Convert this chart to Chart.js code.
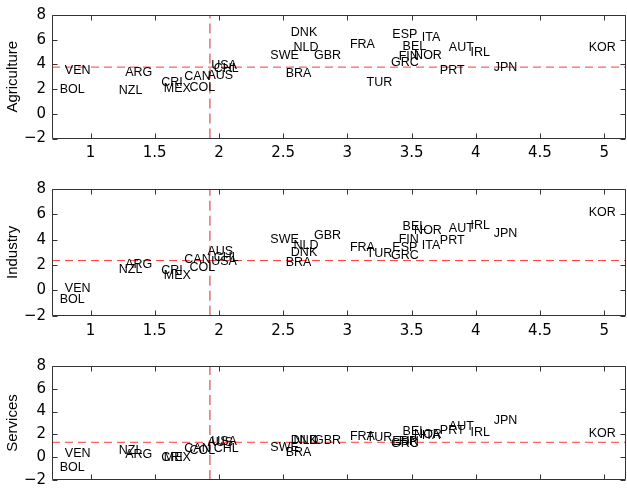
<!DOCTYPE html>
<html>
<head>
<meta charset="utf-8">
<script src="https://cdn.jsdelivr.net/npm/chart.js@4"></script>
<style>
  body { margin: 0; background: #fff; }
  .panel { position: absolute; left: 0; width: 627px; }
</style>
</head>
<body>
<div class="panel" style="top:0px;height:170px"><canvas id="agri-chart" width="627" height="170"></canvas></div>
<div class="panel" style="top:170px;height:170px"><canvas id="ind-chart" width="627" height="170"></canvas></div>
<div class="panel" style="top:340px;height:155px"><canvas id="serv-chart" width="627" height="155"></canvas></div>
<script>
var countries = ["VEN", "BOL", "ARG", "NZL", "CRI", "MEX", "CAN", "COL", "AUS", "USA", "CHL",
  "SWE", "DNK", "NLD", "BRA", "GBR", "FRA", "TUR", "ESP", "GRC", "FIN", "BEL", "NOR", "ITA",
  "AUT", "IRL", "PRT", "JPN", "KOR"];

// same x for every panel
var xValues = [0.80, 0.76, 1.27, 1.22, 1.55, 1.57, 1.73, 1.77, 1.91, 1.94, 1.96,
  2.40, 2.56, 2.58, 2.52, 2.74, 3.02, 3.15, 3.35, 3.34, 3.40, 3.43, 3.52, 3.58,
  3.79, 3.96, 3.72, 4.14, 4.88];

var agriValues = [3.54, 1.94, 3.32, 1.89, 2.55, 2.02, 3.0, 2.1, 3.1, 3.88, 3.64,
  4.68, 6.59, 5.39, 3.22, 4.68, 5.61, 2.53, 6.41, 4.14, 4.6, 5.42, 4.73, 6.19,
  5.34, 4.94, 3.48, 3.75, 5.34];

var indValues = [0.17, -0.74, 2.02, 1.68, 1.55, 1.15, 2.4, 1.81, 3.06, 2.29, 2.56,
  3.99, 3.0, 3.54, 2.21, 4.31, 3.35, 2.88, 3.4, 2.72, 3.99, 5.05, 4.73, 3.51,
  4.84, 5.08, 3.94, 4.47, 6.11];

var servValues = [0.3, -0.92, 0.22, 0.57, 0.01, 0.0, 0.75, 0.57, 1.28, 1.36, 0.75,
  0.83, 1.5, 1.5, 0.43, 1.5, 1.82, 1.74, 1.4, 1.2, 1.35, 2.22, 1.95, 1.87,
  2.69, 2.14, 2.3, 3.2, 2.08];

var xTicks = [1, 1.5, 2, 2.5, 3, 3.5, 4, 4.5, 5];
var yTicks = [-2, 0, 2, 4, 6, 8];
var xMin = 0.7, xMax = 5.17;
var yMin = -2, yMax = 8;

var vLineX = 1.93;
var hLineAgri = 3.78, hLineInd = 2.35, hLineServ = 1.31;

// box + inward ticks + country labels (matlab look)
var boxPlugin = {
  id: "box",
  afterDatasetsDraw: function (chart) {
    var ctx = chart.ctx, a = chart.chartArea;
    var xs = chart.scales.x, ys = chart.scales.y;
    ctx.save();
    ctx.strokeStyle = "#333";
    ctx.lineWidth = 1;
    ctx.beginPath();
    var L = Math.round(a.left) + 0.5, R = Math.round(a.right) - 0.5;
    var T = Math.round(a.top) + 0.5, B = Math.round(a.bottom) - 0.5;
    ctx.rect(L, T, R - L, B - T);
    xTicks.forEach(function (v) {
      var px = Math.round(xs.getPixelForValue(v)) + 0.5;
      ctx.moveTo(px, T); ctx.lineTo(px, T + 5);
      ctx.moveTo(px, B); ctx.lineTo(px, B - 5);
    });
    yTicks.forEach(function (v) {
      var py = Math.round(ys.getPixelForValue(v)) + 0.5;
      ctx.moveTo(L, py); ctx.lineTo(L + 5, py);
      ctx.moveTo(R, py); ctx.lineTo(R - 5, py);
    });
    ctx.stroke();

    var meta = chart.getDatasetMeta(0);
    ctx.fillStyle = "#000";
    ctx.font = "12.5px 'Liberation Sans', Arial, sans-serif";
    ctx.textAlign = "left";
    ctx.textBaseline = "middle";
    meta.data.forEach(function (pt, i) {
      ctx.fillText(countries[i], pt.x, pt.y);
    });
    ctx.restore();
  },
};

var makeChart = function (id, title, values, hLine, padTop, xAxisHeight) {
  return new Chart(document.getElementById(id).getContext("2d"), {
    type: "scatter",
    data: {
      datasets: [
        {
          label: title,
          data: values.map((v, i) => ({ x: xValues[i], y: v })),
          pointRadius: 0,
          pointHoverRadius: 0,
        },
        {
          type: "line",
          data: [{ x: xMin, y: hLine }, { x: xMax, y: hLine }],
          borderColor: "#ff3a3a",
          borderWidth: 1,
          borderDash: [8, 5],
          pointRadius: 0,
        },
        {
          type: "line",
          data: [{ x: vLineX, y: yMin }, { x: vLineX, y: yMax }],
          borderColor: "#d02a28",
          borderWidth: 1,
          borderDash: [10, 5],
          pointRadius: 0,
        },
      ],
    },
    options: {
      responsive: false,
      animation: false,
      events: [],
      layout: { padding: { top: padTop, right: 1, left: 0, bottom: 0 } },
      plugins: { legend: { display: false }, tooltip: { enabled: false } },
      scales: {
        x: {
          type: "linear",
          min: xMin,
          max: xMax,
          afterBuildTicks: function (scale) {
            scale.ticks = xTicks.map((v) => ({ value: v }));
          },
          afterFit: function (scale) { scale.height = xAxisHeight; },
          grid: { display: false, drawTicks: false },
          border: { display: false },
          ticks: {
            padding: 6,
            color: "#000",
            maxRotation: 0,
            autoSkip: false,
            font: { family: "'DejaVu Sans', sans-serif", size: 15 },
            callback: (v) => String(v),
          },
        },
        y: {
          min: yMin,
          max: yMax,
          afterBuildTicks: function (scale) {
            scale.ticks = yTicks.map((v) => ({ value: v }));
          },
          afterFit: function (scale) { scale.width = 52; },
          grid: { display: false, drawTicks: false },
          border: { display: false },
          title: {
            display: true,
            text: title,
            color: "#000",
            padding: { top: 4, bottom: 0 },
            font: { family: "'Liberation Sans', Arial, sans-serif", size: 15 },
          },
          ticks: {
            padding: 6,
            color: "#000",
            font: { family: "'DejaVu Sans', sans-serif", size: 15 },
            callback: (v) => (v < 0 ? "\u2212" + Math.abs(v) : String(v)),
          },
        },
      },
    },
    plugins: [boxPlugin],
  });
};

var agriChart = makeChart("agri-chart", "Agriculture", agriValues, hLineAgri, 13, 31.5);
var indChart = makeChart("ind-chart", "Industry", indValues, hLineInd, 19, 24.3);
var servChart = makeChart("serv-chart", "Services", servValues, hLineServ, 26, 2.7);
</script>
</body>
</html>
